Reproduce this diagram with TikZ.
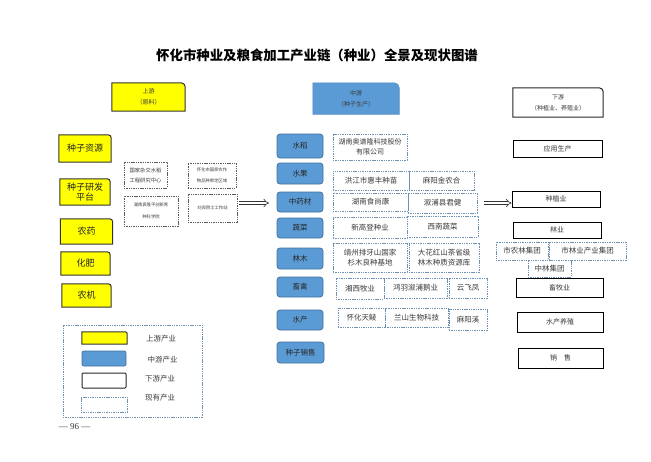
\documentclass[tikz,border=0pt]{standalone}
\usepackage{fontspec}
\setmainfont{Noto Sans CJK SC}
\newfontfamily\numfont{Liberation Serif}
\usetikzlibrary{arrows.meta}
\pgfdeclarelayer{bg}
\pgfsetlayers{bg,main}
\definecolor{mblue}{HTML}{5B9BD5}
\definecolor{mbluedk}{HTML}{41719C}
\definecolor{dashc}{HTML}{7090B2}
\definecolor{dashg}{HTML}{5A5A5A}
\definecolor{txt}{HTML}{3A3A3A}
\definecolor{ylw}{HTML}{FFFF00}
\newcommand{\fsz}[2]{\fontsize{#1}{#2}\selectfont}
\newcommand{\trcorner}[3]{\path[#2] (#1.south west) -- (#1.north west) -- ([xshift=-#3]#1.north east) to[out=0,in=90] ([yshift=-#3]#1.north east) -- (#1.south east) -- cycle;}
\begin{document}
\begin{tikzpicture}[x=1pt,y=-1pt,
  sz/.style 2 args={minimum width=#1pt, minimum height=#2pt},
  base/.style={inner sep=0pt, align=center, text=txt},
  hdr/.style={base, font=\fsz{6}{11}},
  ybox/.style={base, font=\fsz{9}{9.5}, text=black!85},
  bbox/.style={base, draw=mbluedk, fill=mblue, line width=0.7pt, rounded corners=3pt, font=\fsz{7.5}{8}, text=black!85},
  dbox/.style={base, draw=dashc, line width=0.7pt, dash pattern=on 1.4pt off 0.9pt, font=\fsz{7.5}{10}},
  sbox/.style={base, draw=dashg, line width=0.7pt, dash pattern=on 1.4pt off 0.9pt, font=\fsz{4.3}{11}},
  wbox/.style={base, draw=black, line width=1pt, font=\fsz{7}{8}},
  lgtxt/.style={base, font=\fsz{7.5}{8}},
  bigarrow/.style={double, double distance=2.2pt, line width=0.6pt, -{Implies}, draw=black!80}
]
\useasboundingbox (0,0) rectangle (651,461);

% title
\node[base, text=black, font=\bfseries\fsz{13.4}{14}] (title) at (317,55) {怀化市种业及粮食加工产业链（种业）全景及现状图谱};

% headers
\node[hdr, sz={73}{28}] (up) at (148.5,97) {上游\\（原料）};
\node[hdr, sz={86}{31}] (mid) at (356,98.5) {中游\\（种子生产）};
\node[hdr, sz={90}{29}] (down) at (558,102.5) {下游\\（种植业、养殖业）};

% upstream yellow boxes
\node[ybox, sz={52}{27}] (ys1) at (85,148.5) {种子资源};
\node[ybox, sz={50}{26}] (ys2) at (85,192) {种子研发\\平台};
\node[ybox, sz={52}{25}] (ys3) at (86.5,231.5) {农药};
\node[ybox, sz={49}{23}] (ys4) at (85.5,263.5) {化肥};
\node[ybox, sz={49}{23}] (ys5) at (86.5,295.5) {农机};

% upstream existing
\node[sbox, sz={43}{26}, font=\fsz{5.3}{10}] (d1) at (145.5,175) {国家杂交水稻\\工程研究中心};
\node[sbox, sz={48}{25}] (d2) at (212,175.5) {怀化市国家农作\\物品种审定区域};
\node[sbox, sz={54}{30}, font=\fsz{4.3}{12}] (d3) at (151,211) {湖南袁隆平创新育\\种科学院};
\node[sbox, sz={49}{28}] (d4) at (212.5,208) {刘良院士工作站};

\coordinate (a1s) at (239,203);
\coordinate (a1e) at (269,203);
\draw[bigarrow] (a1s) -- (a1e);

% midstream blue
\node[bbox, sz={46}{24}] (b1) at (300,146) {水稻};
\node[bbox, sz={46}{21}] (b2) at (300,173.5) {水果};
\node[bbox, sz={46}{20}] (b3) at (300,202) {中药材};
\node[bbox, sz={46}{20}] (b4) at (300,228) {蔬菜};
\node[bbox, sz={46}{21}] (b5) at (300,258.5) {林木};
\node[bbox, sz={46}{20}] (b6) at (300,287) {畜禽};
\node[bbox, sz={46}{20}] (b7) at (300,320) {水产};
\node[bbox, sz={47}{21}] (b8) at (300.5,352.5) {种子销售};

% midstream existing
\node[dbox, sz={74}{26}, font=\fsz{7}{10}] (m1) at (370,147) {湖南奥谱隆科技股份\\有限公司};
\node[dbox, sz={76}{19}] (m2a) at (371,180.5) {洪江市惠丰种苗};
\node[dbox, sz={65}{19}] (m2b) at (441.5,180.5) {麻阳金农合};
\node[dbox, sz={75}{18}] (m3a) at (370.5,202) {湖南食尚康};
\node[dbox, sz={69}{20}] (m3b) at (442.5,203) {溆浦县君健};
\node[dbox, sz={74}{21}] (m4a) at (370,227.5) {新高登种业};
\node[dbox, sz={71}{21}] (m4b) at (442.5,226.5) {西南蔬菜};
\node[dbox, sz={74}{29}] (m5a) at (370,257.5) {靖州排牙山国家\\杉木良种基地};
\node[dbox, sz={70}{29}] (m5b) at (444,257.5) {大花红山茶省级\\林木种质资源库};
\node[dbox, sz={48}{21}] (m6a) at (360,288.5) {湘西牧业};
\node[dbox, sz={63}{20}] (m6b) at (415.5,288) {鸿羽溆浦鹅业};
\node[dbox, sz={38}{20}] (m6c) at (468,288) {云飞凤};
\node[dbox, sz={47}{19}] (m7a) at (361.5,317.5) {怀化天鲮};
\node[dbox, sz={63}{19}] (m7b) at (416.5,317.5) {兰山生物科技};
\node[dbox, sz={38}{21}] (m7c) at (468,319.5) {麻阳溪};

% downstream
\node[wbox, sz={89}{17}] (r1) at (557.5,148.5) {应用生产};
\node[wbox, sz={88}{16}] (r2) at (556,199) {种植业};
\node[wbox, sz={88}{16}] (r3) at (557,230) {林业};
\node[dbox, sz={52}{18}, fill=white] (c1) at (522,251) {市农林集团};
\node[dbox, sz={77}{18}, fill=white] (c2) at (587.5,251) {市林业产业集团};
\node[dbox, sz={43}{17}, fill=white] (c3) at (549.5,268.5) {中林集团};
\node[wbox, sz={87}{19}] (r4) at (559.5,287.5) {畜牧业};
\node[wbox, sz={86}{20}] (r5) at (560,322) {水产养殖};
\node[wbox, sz={85}{20}] (r6) at (560.5,358) {销\quad 售};

\coordinate (a2s) at (484,203);
\draw[bigarrow] (a2s) -- (a2s -| r2.west);

% legend
\node[base, draw=dashc, line width=0.8pt, dash pattern=on 1.4pt off 0.9pt, sz={139}{92}] (lg) at (132.5,371) {};
\node[base, sz={45}{12}] (ly) at (104.5,338) {};
\node[base, draw=mbluedk, fill=mblue, line width=0.7pt, rounded corners=2pt, sz={44}{15}] (lb) at (104,358.5) {};
\node[base, draw=black!85, line width=1pt, rounded corners=1pt, sz={44}{15}] (lw) at (104,380.5) {};
\node[base, draw=dashc, line width=0.7pt, dash pattern=on 1.4pt off 0.9pt, sz={46}{15}] (ld) at (104,404.5) {};
\node[lgtxt] (lt1) at (161,339) {上游产业};
\node[lgtxt] (lt2) at (162.5,360) {中游产业};
\node[lgtxt] (lt3) at (160,379) {下游产业};
\node[lgtxt] (lt4) at (160,398) {现有产业};

\node[base, font=\numfont\fsz{9}{10}] (page) at (74.5,427) {— 96 —};

% one-corner-rounded outlines on background layer
\begin{pgfonlayer}{bg}
\fill[white] (0,0) rectangle (651,461);
\trcorner{up}{fill=ylw, draw=black!80, line width=1pt}{4pt}
\trcorner{mid}{fill=mblue, draw=mblue!90!black, line width=0.6pt}{5pt}
\trcorner{down}{fill=white, draw=black!85, line width=1pt}{4pt}
\trcorner{ys1}{fill=ylw, draw=black!80, line width=1pt}{3pt}
\trcorner{ys2}{fill=ylw, draw=black!80, line width=1pt}{3pt}
\trcorner{ys3}{fill=ylw, draw=black!80, line width=1pt}{3pt}
\trcorner{ys4}{fill=ylw, draw=black!80, line width=1pt}{3pt}
\trcorner{ys5}{fill=ylw, draw=black!80, line width=1pt}{3pt}
\trcorner{ly}{fill=ylw, draw=black!80, line width=1pt}{2pt}
\end{pgfonlayer}
\end{tikzpicture}
\end{document}
